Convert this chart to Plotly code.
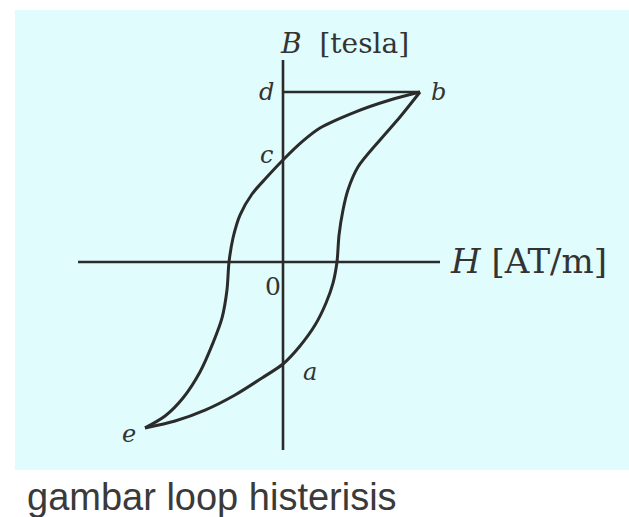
import plotly.graph_objects as go

# Hysteresis loop, normalised units (H / H_max, B / B_max)
# Descending branch: b -> c -> coercive point (left) -> e
h_down = [1.0, 0.781, 0.526, 0.270, 0.146, 0.0, -0.124, -0.226, -0.314, -0.365,
          -0.394, -0.409, -0.445, -0.511, -0.606, -0.730, -0.861, -1.007]
b_down = [1.0, 0.953, 0.882, 0.788, 0.712, 0.600, 0.494, 0.400, 0.276, 0.141,
          0.0, -0.165, -0.329, -0.476, -0.647, -0.800, -0.906, -0.976]

# Ascending branch: e -> a -> coercive point (right) -> b
h_up = [-1.007, -0.788, -0.569, -0.350, -0.153, 0.0, 0.124, 0.234, 0.314,
        0.365, 0.394, 0.409, 0.438, 0.474, 0.547, 0.708, 0.854, 1.0]
b_up = [-0.976, -0.935, -0.871, -0.782, -0.682, -0.600, -0.494, -0.371, -0.241,
        -0.124, 0.0, 0.159, 0.306, 0.424, 0.559, 0.718, 0.853, 1.0]

# Point labels: (text, H, B, x-shift px, y-shift px)
point_labels = [
    ("b", h_down[0], b_down[0], 18, 0),
    ("d", 0.0, b_down[0], -17, 0),
    ("c", 0.0, b_down[5], -17, 5),
    ("a", 0.0, b_up[5], 27, -8),
    ("e", h_down[-1], b_down[-1], -16, -6),
]

# Axis extents (normalised units)
h_axis = (-1.496, 1.146)
b_axis = (-1.106, 1.188)

INK = "#2b2b2b"
LABEL_FONT = "DejaVu Serif"

fig = go.Figure()

for hs, bs in ((h_down, b_down), (h_up, b_up)):
    fig.add_trace(go.Scatter(x=hs, y=bs, mode="lines",
                             line=dict(color=INK, width=3, shape="spline", smoothing=0.8),
                             hoverinfo="skip", showlegend=False))

shapes = [
    # light panel behind the diagram
    dict(type="rect", xref="paper", yref="paper", x0=15 / 629, x1=1.0,
         y0=1 - 470 / 517, y1=1 - 10 / 517, fillcolor="#E0FCFC",
         line=dict(width=0), layer="below"),
    # H axis
    dict(type="line", x0=h_axis[0], x1=h_axis[1], y0=0, y1=0,
         line=dict(color=INK, width=2.4)),
    # B axis
    dict(type="line", x0=0, x1=0, y0=b_axis[0], y1=b_axis[1],
         line=dict(color=INK, width=2.6)),
    # saturation level d - b
    dict(type="line", x0=0, x1=h_down[0], y0=b_down[0], y1=b_down[0],
         line=dict(color=INK, width=2.4)),
]

annotations = []
for text, hx, by, dx, dy in point_labels:
    annotations.append(dict(x=hx, y=by, text=f"<i>{text}</i>", showarrow=False,
                            xshift=dx, yshift=dy,
                            font=dict(family=LABEL_FONT, size=24, color="#333333")))

annotations += [
    dict(x=0, y=0, text="0", showarrow=False, xshift=-10, yshift=-24,
         font=dict(family=LABEL_FONT, size=25, color="#333333")),
    dict(x=h_axis[1], y=0, text="<i>H</i> [AT/m]", showarrow=False,
         xanchor="left", xshift=8, yshift=1,
         font=dict(family=LABEL_FONT, size=34, color="#333333")),
    dict(x=0, y=b_axis[1], text="<i>B</i>  [tesla]", showarrow=False,
         xanchor="left", yanchor="bottom", xshift=-5, yshift=-2,
         font=dict(family=LABEL_FONT, size=28, color="#333333")),
    dict(xref="paper", yref="paper", x=25 / 629, y=1 - 497 / 517,
         text="gambar loop histerisis", showarrow=False,
         xanchor="left", yanchor="middle",
         font=dict(family="Liberation Sans", size=38, color="#3a3a3a")),
]

fig.update_layout(
    width=629, height=517,
    margin=dict(l=0, r=0, t=0, b=0),
    paper_bgcolor="white", plot_bgcolor="rgba(0,0,0,0)",
    xaxis=dict(range=[-2.0657, 2.5255], visible=False, fixedrange=True),
    yaxis=dict(range=[-1.5, 1.5412], visible=False, fixedrange=True),
    shapes=shapes, annotations=annotations, showlegend=False,
)

fig.write_html("out.html", config={"displayModeBar": False})
